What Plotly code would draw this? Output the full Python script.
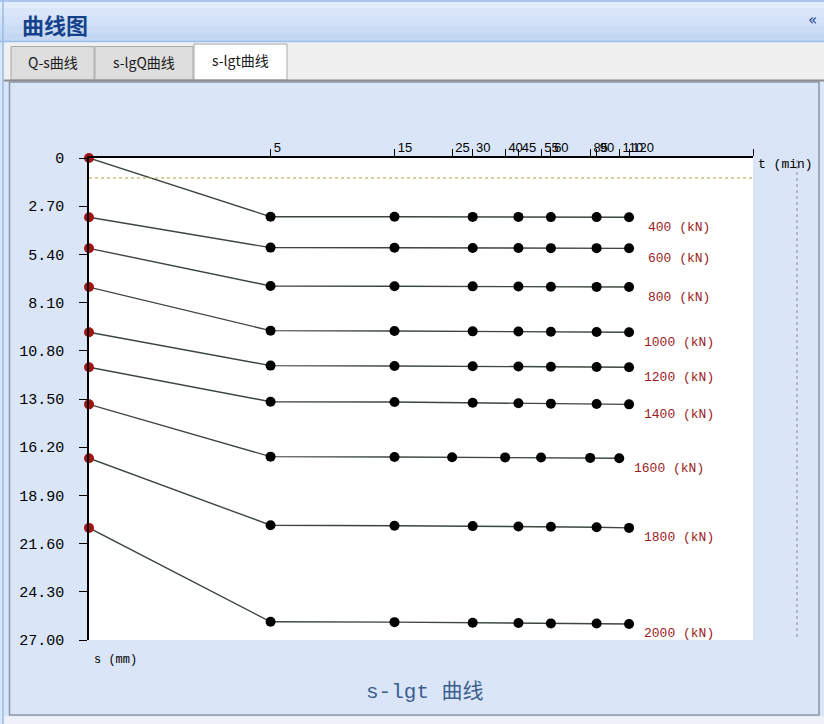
import math
import plotly.graph_objects as go

# ---------------- data ----------------
loads = ["400", "600", "800", "1000", "1200", "1400", "1600", "1800", "2000"]
times_std = [0, 5, 15, 30, 45, 60, 90, 120]
times_1600 = [0, 5, 15, 25, 40, 55, 85, 110]
series_times = [times_std] * 6 + [times_1600] + [times_std] * 2

s_400 = [0.00, 3.29, 3.29, 3.30, 3.30, 3.31, 3.31, 3.32]
s_600 = [3.32, 5.02, 5.03, 5.04, 5.04, 5.05, 5.05, 5.06]
s_800 = [5.06, 7.17, 7.18, 7.19, 7.20, 7.21, 7.22, 7.23]
s_1000 = [7.23, 9.67, 9.69, 9.71, 9.72, 9.73, 9.75, 9.76]
s_1200 = [9.76, 11.63, 11.65, 11.67, 11.68, 11.69, 11.71, 11.72]
s_1400 = [11.72, 13.65, 13.67, 13.71, 13.74, 13.76, 13.78, 13.80]
s_1600 = [13.80, 16.73, 16.75, 16.76, 16.77, 16.78, 16.80, 16.82]
s_1800 = [16.82, 20.57, 20.60, 20.62, 20.64, 20.66, 20.68, 20.72]
s_2000 = [20.72, 25.98, 26.00, 26.03, 26.05, 26.07, 26.08, 26.10]
series_s = [s_400, s_600, s_800, s_1000, s_1200, s_1400, s_1600, s_1800, s_2000]

x_tickvals = [5, 15, 25, 30, 40, 45, 55, 60, 85, 90, 110, 120]
y_tickvals = [0, 2.7, 5.4, 8.1, 10.8, 13.5, 16.2, 18.9, 21.6, 24.3, 27.0]
y_ticktext = ["0", "2.70", "5.40", "8.10", "10.80", "13.50", "16.20",
              "18.90", "21.60", "24.30", "27.00"]
t_axis_max = 360          # end of the time axis (min)
ref_line_s = 1.12         # dotted reference line (mm)

# ---------------- layout geometry ----------------
W, H = 824, 724
PL, PR, PT, PB = 89, 753, 158, 640   # plot area in pixels


def px(x):
    return (x - PL) / (PR - PL)


def py(y):
    return 1 - (y - PT) / (PB - PT)


RED = "#a01414"
LINE = "#3c463c"
LABEL = "#9a1c1c"
MONO = "Liberation Mono, DejaVu Sans Mono, monospace"
CJK = "Noto Sans CJK SC, sans-serif"

fig = go.Figure()
for load, ts, ss in zip(loads, series_times, series_s):
    xs = [t if t > 0 else 1 for t in ts]   # t = 0 drawn at the axis origin
    colors = [RED] + ["#000000"] * (len(xs) - 1)
    fig.add_trace(go.Scatter(
        x=xs, y=ss, mode="lines+markers", name=load + " (kN)",
        line=dict(color=LINE, width=1.4),
        marker=dict(color=colors, size=10),
        cliponaxis=False,
        showlegend=False, hoverinfo="x+y",
    ))
    fig.add_annotation(
        x=math.log10(xs[-1]), y=ss[-1], xref="x", yref="y",
        text=load + " (kN)", showarrow=False, xanchor="center", yanchor="middle",
        xshift=50, yshift=-10,
        font=dict(family=MONO, size=13, color=LABEL),
    )

shapes = []
# header gradient
grad = ["#e2ecfb", "#dae7fa", "#d3e2f8", "#cbddf6", "#c4d8f4"]
band = 41 / len(grad)
for i, c in enumerate(grad):
    shapes.append(dict(type="rect", xref="paper", yref="paper",
                       x0=px(0), x1=px(W), y0=py(i * band), y1=py((i + 1) * band + 0.5),
                       fillcolor=c, line=dict(width=0), layer="above"))
shapes.append(dict(type="line", xref="paper", yref="paper", x0=px(0), x1=px(W),
                   y0=py(41.5), y1=py(41.5), line=dict(color="#99bbe8", width=1.5)))
shapes.append(dict(type="line", xref="paper", yref="paper", x0=px(0), x1=px(W),
                   y0=py(1), y1=py(1), line=dict(color="#99bbe8", width=1.5)))
# tab strip
shapes.append(dict(type="rect", xref="paper", yref="paper", x0=px(4), x1=px(W),
                   y0=py(42.5), y1=py(80), fillcolor="#f0f0f0", line=dict(width=0)))
for x0, x1, fill, ytop in [(11, 94, "#dedede", 46.5), (95, 193, "#dedede", 46.5),
                           (194, 287, "#ffffff", 44)]:
    shapes.append(dict(type="rect", xref="paper", yref="paper", x0=px(x0), x1=px(x1),
                       y0=py(ytop), y1=py(80), fillcolor=fill,
                       line=dict(color="#a8a8a8", width=1)))
shapes.append(dict(type="line", xref="paper", yref="paper", x0=px(4), x1=px(W),
                   y0=py(80.5), y1=py(80.5), line=dict(color="#8c8c8c", width=2)))
# outer left border
shapes.append(dict(type="line", xref="paper", yref="paper", x0=px(3), x1=px(3),
                   y0=py(0), y1=py(H), line=dict(color="#99bbe8", width=1.5)))
# panel border
shapes.append(dict(type="rect", xref="paper", yref="paper", x0=px(9.5), x1=px(819),
                   y0=py(82), y1=py(715), line=dict(color="#8a96a8", width=1.5)))
shapes.append(dict(type="rect", xref="paper", yref="paper", x0=px(4), x1=px(W),
                   y0=py(716.5), y1=py(H), fillcolor="#eef2f8", line=dict(width=0)))
# dotted reference lines
shapes.append(dict(type="line", xref="paper", yref="y", x0=0, x1=1,
                   y0=ref_line_s, y1=ref_line_s,
                   line=dict(color="#b0a040", width=1, dash="dot")))
shapes.append(dict(type="line", xref="paper", yref="paper", x0=px(797), x1=px(797),
                   y0=py(160), y1=py(640),
                   line=dict(color="#8a8a8a", width=1, dash="dot")))

annotations = [
    dict(text="<b>曲线图</b>", x=px(20), y=py(24), xanchor="left", yanchor="middle",
         font=dict(family=CJK, size=22, color="#15428b")),
    dict(text="«", x=px(812), y=py(20), xanchor="center", yanchor="middle",
         font=dict(family="DejaVu Sans", size=15, color="#15428b")),
    dict(text="Q-s曲线", x=px(52.5), y=py(62), xanchor="center", yanchor="middle",
         font=dict(family=CJK, size=14, color="#1a1a1a")),
    dict(text="s-lgQ曲线", x=px(144), y=py(62), xanchor="center", yanchor="middle",
         font=dict(family=CJK, size=14, color="#1a1a1a")),
    dict(text="s-lgt曲线", x=px(240.5), y=py(60), xanchor="center", yanchor="middle",
         font=dict(family=CJK, size=14, color="#1a1a1a")),
    dict(text="t (min)", x=px(756), y=py(165), xanchor="left", yanchor="middle",
         font=dict(family=MONO, size=13, color="#000000")),
    dict(text="s (mm)", x=px(92), y=py(660), xanchor="left", yanchor="middle",
         font=dict(family=MONO, size=12, color="#000000")),
    dict(text="s-lgt 曲线", x=px(425), y=py(692), xanchor="center", yanchor="middle",
         font=dict(family=MONO.split(",")[0] + ", " + CJK, size=21, color="#3d5f8f")),
]
for a in annotations:
    a.update(xref="paper", yref="paper", showarrow=False)

fig.update_layout(
    width=W, height=H,
    margin=dict(l=PL, r=W - PR, t=PT, b=H - PB, pad=0),
    paper_bgcolor="#dae6f8",
    plot_bgcolor="#ffffff",
    shapes=shapes,
    annotations=list(fig.layout.annotations) + annotations,
    xaxis=dict(
        type="log", range=[0, math.log10(t_axis_max)], side="top",
        showline=True, linecolor="#000000", linewidth=1.5,
        ticks="outside", ticklen=7, tickcolor="#000000", tickwidth=1,
        tickvals=x_tickvals + [t_axis_max],
        ticktext=[str(v) for v in x_tickvals] + [""],
        ticklabelposition="outside right", tickangle=0,
        ticklabelstandoff=-1, ticklabelshift=2,
        tickfont=dict(family="Liberation Sans, sans-serif", size=13, color="#000000"),
        showgrid=False, zeroline=False, mirror=False,
    ),
    yaxis=dict(
        range=[27, 0], showline=True, linecolor="#000000", linewidth=1.5,
        ticks="outside", ticklen=8, tickcolor="#000000", tickwidth=1,
        tickvals=y_tickvals, ticktext=y_ticktext, ticklabelstandoff=12,
        tickfont=dict(family=MONO, size=15, color="#000000"),
        showgrid=False, zeroline=False, mirror=False,
    ),
)

fig.write_html(
    "out.html",
    config={"displayModeBar": False},
    post_script="document.body.style.margin='0';document.body.style.overflow='hidden';",
)
